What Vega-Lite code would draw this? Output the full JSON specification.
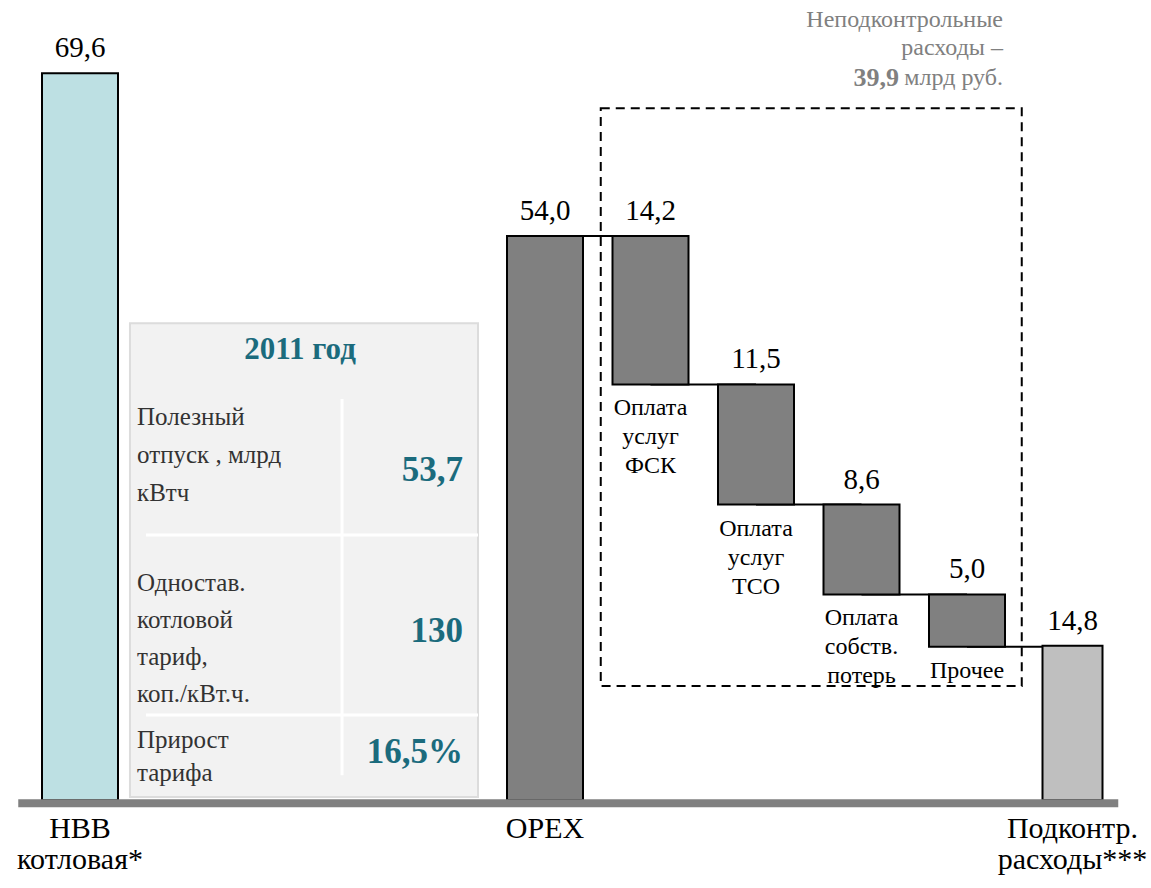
{
  "$schema": "https://vega.github.io/schema/vega-lite/v6.json",
  "width": 1151,
  "height": 888,
  "autosize": {"type": "none"},
  "padding": 0,
  "background": "white",
  "config": {"view": {"stroke": null}, "text": {"font": "Liberation Serif"}},
  "datasets": {
    "bars": [
      {"name": "НВВ", "start": 0, "end": 69.6, "label": "69,6", "kind": "total"},
      {"name": "OPEX", "start": 0, "end": 54.0, "label": "54,0", "kind": "opex"},
      {"name": "ФСК", "start": 39.8, "end": 54.0, "label": "14,2", "kind": "step", "note": "Оплата\nуслуг\nФСК"},
      {"name": "ТСО", "start": 28.3, "end": 39.8, "label": "11,5", "kind": "step", "note": "Оплата\nуслуг\nТСО"},
      {"name": "Потери", "start": 19.7, "end": 28.3, "label": "8,6", "kind": "step", "note": "Оплата\nсобств.\nпотерь"},
      {"name": "Прочее", "start": 14.7, "end": 19.7, "label": "5,0", "kind": "step", "note": "Прочее"},
      {"name": "Подконтр", "start": 0, "end": 14.8, "label": "14,8", "kind": "rest"}
    ],
    "links": [
      {"from": "OPEX", "to": "ФСК", "level": 54.0},
      {"from": "ФСК", "to": "ТСО", "level": 39.8},
      {"from": "ТСО", "to": "Потери", "level": 28.3},
      {"from": "Потери", "to": "Прочее", "level": 19.7},
      {"from": "Прочее", "to": "Подконтр", "level": 14.7}
    ],
    "cats": [
      {"name": "НВВ", "text": "НВВ\nкотловая*"},
      {"name": "OPEX", "text": "OPEX"},
      {"name": "Подконтр", "text": "Подконтр.\nрасходы***"}
    ],
    "table": [
      {"row": "r1", "label": " Полезный\nотпуск ,  млрд\nкВтч", "value": "53,7"},
      {"row": "r2", "label": " Одностав.\nкотловой\nтариф,\nкоп./кВт.ч.", "value": "130"},
      {"row": "r3", "label": " Прирост\nтарифа", "value": "16,5%"}
    ],
    "notes": [
      {"title": "2011 год", "head": "Неподконтрольные\nрасходы –", "total": "39,9", "unit": "млрд руб."}
    ]
  },
  "layer": [
    {
      "data": {"name": "links"},
      "mark": {"type": "rule", "color": "black", "strokeWidth": 2},
      "encoding": {
        "x": {"field": "from", "type": "nominal", "axis": null,
              "scale": {"type": "band", "domain": ["НВВ", "t1", "t2", "t3", "OPEX", "ФСК", "ТСО", "Потери", "Прочее", "Подконтр"], "range": [70.25, 1125.25], "paddingInner": 0, "paddingOuter": 0}},
        "x2": {"field": "to"},
        "y": {"field": "level", "type": "quantitative", "axis": null,
              "scale": {"domain": [-8.4, 76.6], "nice": false, "zero": false}}
      }
    },
    {
      "data": {"name": "notes"},
      "mark": {"type": "rect", "fill": null, "fillOpacity": 0, "stroke": "black", "strokeWidth": 2, "strokeDash": [9, 6], "xOffset": 3, "x2Offset": 2},
      "encoding": {
        "x": {"datum": "ФСК", "type": "nominal", "bandPosition": 0},
        "x2": {"datum": "Подконтр", "bandPosition": 0},
        "y": {"datum": 66.24, "type": "quantitative"},
        "y2": {"datum": 10.93}
      }
    },
    {
      "data": {"name": "bars"},
      "transform": [{"filter": "datum.name !== 'НВВ'"}],
      "mark": {"type": "bar", "stroke": "black", "strokeWidth": 2},
      "encoding": {
        "x": {"field": "name", "type": "nominal"},
        "y": {"field": "end", "type": "quantitative"},
        "y2": {"field": "start"},
        "size": {"condition": {"test": "datum.name === 'Подконтр'", "value": 60}, "value": 76},
        "color": {"field": "kind", "type": "nominal", "legend": null,
                  "scale": {"domain": ["total", "opex", "step", "rest"], "range": ["#BDE0E3", "#808080", "#808080", "#BFBFBF"]}}
      }
    },
    {
      "data": {"name": "bars"},
      "transform": [{"filter": "datum.name === 'НВВ'"}],
      "mark": {"type": "bar", "stroke": "black", "strokeWidth": 2, "xOffset": -43, "width": 76},
      "encoding": {
        "x": {"field": "name", "type": "nominal"},
        "y": {"field": "end", "type": "quantitative"},
        "y2": {"field": "start"},
        "color": {"field": "kind", "type": "nominal", "legend": null}
      }
    },
    {
      "data": {"name": "bars"},
      "transform": [{"filter": "datum.name !== 'НВВ'"}],
      "mark": {"type": "text", "font": "Liberation Serif", "fontSize": 29, "color": "black", "baseline": "alphabetic", "dy": -16},
      "encoding": {
        "x": {"field": "name", "type": "nominal"},
        "y": {"field": "end", "type": "quantitative"},
        "text": {"field": "label"}
      }
    },
    {
      "data": {"name": "bars"},
      "transform": [{"filter": "datum.name === 'НВВ'"}],
      "mark": {"type": "text", "font": "Liberation Serif", "fontSize": 29, "color": "black", "baseline": "alphabetic", "dy": -16, "xOffset": -43},
      "encoding": {
        "x": {"field": "name", "type": "nominal"},
        "y": {"field": "end", "type": "quantitative"},
        "text": {"field": "label"}
      }
    },
    {
      "data": {"name": "bars"},
      "transform": [{"filter": "isValid(datum.note)"}],
      "mark": {"type": "text", "font": "Liberation Serif", "fontSize": 24, "color": "black", "baseline": "top", "dy": 12, "lineBreak": "\n", "lineHeight": 29},
      "encoding": {
        "x": {"field": "name", "type": "nominal"},
        "y": {"field": "start", "type": "quantitative"},
        "text": {"field": "note"}
      }
    },
    {
      "data": {"name": "notes"},
      "mark": {"type": "rule", "color": "#808080", "strokeWidth": 8, "yOffset": 3, "xOffset": -52, "x2Offset": -7},
      "encoding": {
        "x": {"datum": "НВВ", "type": "nominal", "bandPosition": 0},
        "x2": {"datum": "Подконтр", "bandPosition": 1},
        "y": {"datum": 0, "type": "quantitative"}
      }
    },
    {
      "data": {"name": "cats"},
      "transform": [{"filter": "datum.name !== 'НВВ'"}],
      "mark": {"type": "text", "fontSize": 30, "color": "black", "baseline": "top", "dy": 14, "lineBreak": "\n", "lineHeight": 31, "font": "Liberation Serif"},
      "encoding": {
        "x": {"field": "name", "type": "nominal"},
        "y": {"datum": 0, "type": "quantitative"},
        "text": {"field": "text"}
      }
    },
    {
      "data": {"name": "cats"},
      "transform": [{"filter": "datum.name === 'НВВ'"}],
      "mark": {"type": "text", "fontSize": 30, "color": "black", "baseline": "top", "dy": 14, "lineBreak": "\n", "lineHeight": 31, "xOffset": -43, "font": "Liberation Serif"},
      "encoding": {
        "x": {"field": "name", "type": "nominal"},
        "y": {"datum": 0, "type": "quantitative"},
        "text": {"field": "text"}
      }
    },
    {
      "data": {"name": "notes"},
      "mark": {"type": "rect", "fill": "#F2F2F2", "stroke": "#DCDCDC", "strokeWidth": 2},
      "encoding": {
        "x": {"datum": "НВВ", "type": "nominal", "bandPosition": 0.566},
        "x2": {"datum": "t3", "bandPosition": 0.865},
        "y": {"datum": 45.66, "type": "quantitative"},
        "y2": {"datum": 0.3}
      }
    },
    {
      "data": {"name": "notes"},
      "mark": {"type": "rule", "color": "white", "strokeWidth": 3},
      "encoding": {
        "x": {"datum": "t2", "type": "nominal", "bandPosition": 0.576},
        "y": {"datum": 38.4, "type": "quantitative"},
        "y2": {"datum": 2.4}
      }
    },
    {
      "data": {"name": "notes"},
      "mark": {"type": "rule", "color": "white", "strokeWidth": 3},
      "encoding": {
        "x": {"datum": "НВВ", "type": "nominal", "bandPosition": 0.718},
        "x2": {"datum": "t3", "bandPosition": 0.865},
        "y": {"datum": 25.4, "type": "quantitative"}
      }
    },
    {
      "data": {"name": "notes"},
      "mark": {"type": "rule", "color": "white", "strokeWidth": 3},
      "encoding": {
        "x": {"datum": "НВВ", "type": "nominal", "bandPosition": 0.718},
        "x2": {"datum": "t3", "bandPosition": 0.865},
        "y": {"datum": 8.16, "type": "quantitative"}
      }
    },
    {
      "data": {"name": "notes"},
      "mark": {"type": "text", "font": "Liberation Serif", "fontSize": 31, "fontWeight": "bold", "color": "#1B6B7D", "align": "center", "baseline": "middle"},
      "encoding": {
        "x": {"datum": "t2", "type": "nominal", "bandPosition": 0.178},
        "y": {"datum": 43.1, "type": "quantitative"},
        "text": {"field": "title"}
      }
    },
    {
      "data": {"name": "table"},
      "transform": [{"filter": "datum.row === 'r1'"}],
      "layer": [
        {
          "mark": {"type": "text", "font": "Liberation Serif", "fontSize": 25, "color": "#333333", "align": "left", "baseline": "middle", "lineBreak": "\n", "lineHeight": 38},
          "encoding": {
            "x": {"datum": "НВВ", "type": "nominal", "bandPosition": 0.633},
            "y": {"datum": 36.68, "type": "quantitative"},
            "text": {"field": "label"}
          }
        },
        {
          "mark": {"type": "text", "font": "Liberation Serif", "fontSize": 35, "fontWeight": "bold", "color": "#1B6B7D", "align": "right", "baseline": "middle"},
          "encoding": {
            "x": {"datum": "t3", "type": "nominal", "bandPosition": 0.723},
            "y": {"datum": 31.6, "type": "quantitative"},
            "text": {"field": "value"}
          }
        }
      ]
    },
    {
      "data": {"name": "table"},
      "transform": [{"filter": "datum.row === 'r2'"}],
      "layer": [
        {
          "mark": {"type": "text", "font": "Liberation Serif", "fontSize": 25, "color": "#333333", "align": "left", "baseline": "middle", "lineBreak": "\n", "lineHeight": 37},
          "encoding": {
            "x": {"datum": "НВВ", "type": "nominal", "bandPosition": 0.633},
            "y": {"datum": 20.8, "type": "quantitative"},
            "text": {"field": "label"}
          }
        },
        {
          "mark": {"type": "text", "font": "Liberation Serif", "fontSize": 35, "fontWeight": "bold", "color": "#1B6B7D", "align": "right", "baseline": "middle"},
          "encoding": {
            "x": {"datum": "t3", "type": "nominal", "bandPosition": 0.723},
            "y": {"datum": 16.2, "type": "quantitative"},
            "text": {"field": "value"}
          }
        }
      ]
    },
    {
      "data": {"name": "table"},
      "transform": [{"filter": "datum.row === 'r3'"}],
      "layer": [
        {
          "mark": {"type": "text", "font": "Liberation Serif", "fontSize": 25, "color": "#333333", "align": "left", "baseline": "middle", "lineBreak": "\n", "lineHeight": 33},
          "encoding": {
            "x": {"datum": "НВВ", "type": "nominal", "bandPosition": 0.633},
            "y": {"datum": 5.77, "type": "quantitative"},
            "text": {"field": "label"}
          }
        },
        {
          "mark": {"type": "text", "font": "Liberation Serif", "fontSize": 35, "fontWeight": "bold", "color": "#1B6B7D", "align": "right", "baseline": "middle"},
          "encoding": {
            "x": {"datum": "t3", "type": "nominal", "bandPosition": 0.723},
            "y": {"datum": 4.61, "type": "quantitative"},
            "text": {"field": "value"}
          }
        }
      ]
    },
    {
      "data": {"name": "notes"},
      "layer": [
        {
          "mark": {"type": "text", "font": "Liberation Serif", "fontSize": 24, "color": "#808080", "align": "right", "baseline": "middle", "lineBreak": "\n", "lineHeight": 28},
          "encoding": {
            "x": {"datum": "Прочее", "type": "nominal", "bandPosition": 0.841},
            "y": {"datum": 74.68, "type": "quantitative"},
            "text": {"field": "head"}
          }
        },
        {
          "mark": {"type": "text", "font": "Liberation Serif", "fontSize": 24, "color": "#808080", "align": "right", "baseline": "middle"},
          "encoding": {
            "x": {"datum": "Прочее", "type": "nominal", "bandPosition": 0.841},
            "y": {"datum": 69.1, "type": "quantitative"},
            "text": {"field": "unit"}
          }
        },
        {
          "mark": {"type": "text", "font": "Liberation Serif", "fontSize": 26, "fontWeight": "bold", "color": "#808080", "align": "right", "baseline": "middle", "dx": -104},
          "encoding": {
            "x": {"datum": "Прочее", "type": "nominal", "bandPosition": 0.841},
            "y": {"datum": 69.1, "type": "quantitative"},
            "text": {"field": "total"}
          }
        }
      ]
    }
  ]
}
